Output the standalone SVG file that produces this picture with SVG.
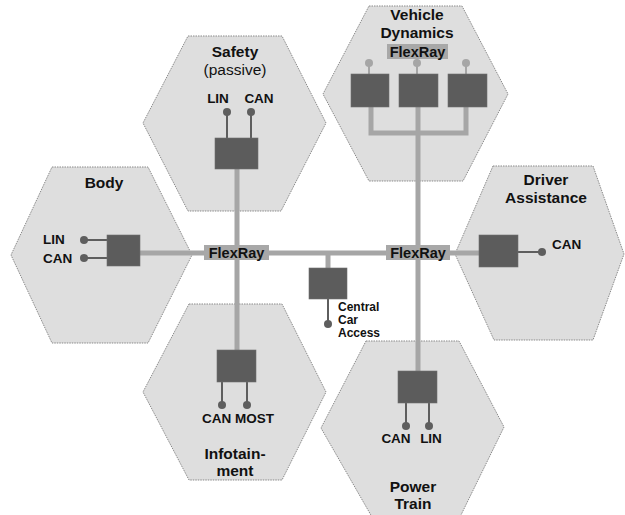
<svg xmlns="http://www.w3.org/2000/svg" width="625" height="515" viewBox="0 0 625 515">
  <style>
    .hex { fill: #dedede; stroke: #8a8a8a; stroke-width: 1; stroke-dasharray: 1.5 1; }
    .ecu { fill: #5c5c5c; stroke: #6e6e6e; stroke-width: 0.6; }
    .bus { stroke: #a6a6a6; stroke-width: 5; fill: none; }
    .stub { stroke: #5e5e5e; stroke-width: 2; fill: none; }
    .stub-lt { stroke: #a6a6a6; stroke-width: 2; fill: none; }
    .pin { fill: #5e5e5e; }
    .pin-lt { fill: #a6a6a6; }
    .lbl-bg { fill: #a8a8a8; }
    text { font-family: "Liberation Sans", Arial, sans-serif; fill: #111; }
    .title { font-size: 15.5px; font-weight: bold; text-anchor: middle; }
    .sub { font-size: 15.5px; text-anchor: middle; }
    .bus-name { font-size: 14.5px; font-weight: bold; text-anchor: middle; }
    .port { font-size: 13.5px; font-weight: bold; }
    .small { font-size: 12px; font-weight: bold; }
    .mid { text-anchor: middle; }
  </style>

  <!-- domain hexagons -->
  <g id="domain-safety">
    <polygon class="hex" points="188,36 282,36 326,123 281,211 188,211 143,123"/>
  </g>
  <g id="domain-vehicle-dynamics">
    <polygon class="hex" points="369,6 462,6 508,94 463,181 369,181 323,94"/>
  </g>
  <g id="domain-body">
    <polygon class="hex" points="52,167 148,167 192,255 148,343 52,343 11,255"/>
  </g>
  <g id="domain-driver-assistance">
    <polygon class="hex" points="493,166 593,166 624,254 593,340 494,340 455,254"/>
  </g>
  <g id="domain-infotainment">
    <polygon class="hex" points="189,304 282,304 326,392 282,480 189,480 143,392"/>
  </g>
  <g id="domain-power-train">
    <polygon class="hex" points="366,341 459,341 504,427 460,517 372,517 321,428"/>
  </g>

  <!-- backbone and branch connectors -->
  <g id="connectors">
    <line class="bus" x1="140" y1="253" x2="479" y2="253"/>
    <line class="bus" x1="237" y1="169" x2="237" y2="350"/>
    <line class="bus" x1="418" y1="131" x2="418" y2="371"/>
    <line class="bus" x1="328" y1="253" x2="328" y2="268"/>
    <polyline class="bus" points="371,107 371,133 466,133 466,107"/>
    <line class="bus" x1="418" y1="107" x2="418" y2="133"/>

    <!-- stubs to sub-buses -->
    <line class="stub" x1="227" y1="112" x2="227" y2="138"/>
    <line class="stub" x1="251" y1="112" x2="251" y2="138"/>
    <line class="stub" x1="84" y1="240" x2="107" y2="240"/>
    <line class="stub" x1="84" y1="258" x2="107" y2="258"/>
    <line class="stub" x1="518" y1="252" x2="542" y2="252"/>
    <line class="stub" x1="328" y1="299" x2="328" y2="324"/>
    <line class="stub" x1="222" y1="382" x2="222" y2="405"/>
    <line class="stub" x1="247" y1="382" x2="247" y2="405"/>
    <line class="stub" x1="406" y1="403" x2="406" y2="426"/>
    <line class="stub" x1="429" y1="403" x2="429" y2="426"/>
    <line class="stub-lt" x1="369" y1="63" x2="369" y2="74"/>
    <line class="stub-lt" x1="417" y1="63" x2="417" y2="74"/>
    <line class="stub-lt" x1="466" y1="63" x2="466" y2="74"/>
  </g>

  <!-- backbone labels -->
  <g id="flexray-left">
    <rect class="lbl-bg" x="204" y="245" width="65" height="15"/>
    <text class="bus-name" x="236.5" y="257.5">FlexRay</text>
  </g>
  <g id="flexray-right">
    <rect class="lbl-bg" x="386" y="245" width="64" height="15"/>
    <text class="bus-name" x="418" y="257.5">FlexRay</text>
  </g>

  <!-- Safety -->
  <g id="safety">
    <text class="title" x="235" y="57">Safety</text>
    <text class="sub" x="235" y="75">(passive)</text>
    <text class="port mid" x="218" y="103">LIN</text>
    <text class="port mid" x="259" y="103">CAN</text>
    <circle class="pin" cx="227" cy="112" r="4"/>
    <circle class="pin" cx="251" cy="112" r="4"/>
    <rect class="ecu" x="215" y="138" width="43" height="31"/>
  </g>

  <!-- Vehicle Dynamics -->
  <g id="vehicle-dynamics">
    <text class="title" x="417" y="20">Vehicle</text>
    <text class="title" x="417" y="38">Dynamics</text>
    <rect class="lbl-bg" x="387" y="44" width="61" height="15"/>
    <text class="bus-name" x="417.5" y="56.5">FlexRay</text>
    <circle class="pin-lt" cx="369" cy="63" r="4"/>
    <circle class="pin-lt" cx="417" cy="63" r="4"/>
    <circle class="pin-lt" cx="466" cy="63" r="4"/>
    <rect class="ecu" x="351" y="74" width="38" height="33"/>
    <rect class="ecu" x="399" y="74" width="39" height="33"/>
    <rect class="ecu" x="448" y="74" width="39" height="33"/>
  </g>

  <!-- Body -->
  <g id="body">
    <text class="title" x="104" y="188">Body</text>
    <text class="port" x="43" y="244">LIN</text>
    <text class="port" x="43" y="263">CAN</text>
    <circle class="pin" cx="84" cy="240" r="4"/>
    <circle class="pin" cx="84" cy="258" r="4"/>
    <rect class="ecu" x="107" y="235" width="33" height="31"/>
  </g>

  <!-- Driver Assistance -->
  <g id="driver-assistance">
    <text class="title" x="546" y="185">Driver</text>
    <text class="title" x="546" y="203">Assistance</text>
    <rect class="ecu" x="479" y="235" width="39" height="32"/>
    <circle class="pin" cx="542" cy="252" r="4"/>
    <text class="port" x="552" y="249">CAN</text>
  </g>

  <!-- Central Car Access -->
  <g id="central-car-access">
    <rect class="ecu" x="309" y="268" width="38" height="31"/>
    <circle class="pin" cx="328" cy="324" r="4"/>
    <text class="small" x="338" y="311">Central</text>
    <text class="small" x="338" y="324">Car</text>
    <text class="small" x="338" y="337">Access</text>
  </g>

  <!-- Infotainment -->
  <g id="infotainment">
    <rect class="ecu" x="217" y="350" width="39" height="32"/>
    <circle class="pin" cx="222" cy="405" r="4"/>
    <circle class="pin" cx="247" cy="405" r="4"/>
    <text class="port mid" x="238" y="423">CAN MOST</text>
    <text class="title" x="235" y="459">Infotain-</text>
    <text class="title" x="235" y="476">ment</text>
  </g>

  <!-- Power Train -->
  <g id="power-train">
    <rect class="ecu" x="398" y="371" width="39" height="32"/>
    <circle class="pin" cx="406" cy="426" r="4"/>
    <circle class="pin" cx="429" cy="426" r="4"/>
    <text class="port mid" x="396" y="443">CAN</text>
    <text class="port mid" x="431" y="443">LIN</text>
    <text class="title" x="413" y="492">Power</text>
    <text class="title" x="413" y="509">Train</text>
  </g>
</svg>
